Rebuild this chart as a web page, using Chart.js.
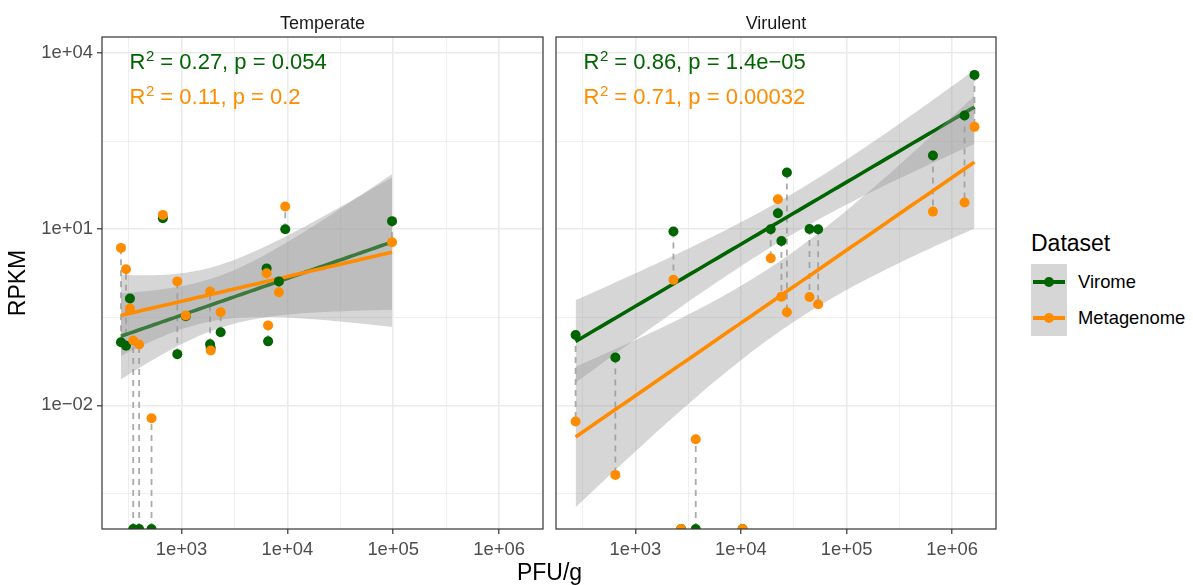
<!DOCTYPE html>
<html lang="en">
<head>
<meta charset="UTF-8">
<title>RPKM vs PFU/g</title>
<script src="https://cdn.jsdelivr.net/npm/chart.js@4.4.1/dist/chart.umd.min.js"></script>
<style>
  body { margin: 0; background: #fff; font-family: 'Liberation Sans', Arial, sans-serif; }
  #wrap { position: relative; width: 1193px; height: 585px; overflow: hidden; }
  canvas { position: absolute; top: 0; }
  .xtitle { position: absolute; left: 0; width: 1099px; top: 561px; text-align: center; font-size: 23px; line-height: 1; color: #000; }
  .ltitle { position: absolute; left: 1031px; top: 232px; font-size: 23px; line-height: 1; color: #000; }
  .key { position: absolute; left: 1031px; width: 36px; height: 36px; background: rgba(153,153,153,0.4); }
  .key .ln { position: absolute; left: 2px; right: 2px; top: 16px; height: 4px; }
  .key .dt { position: absolute; left: 13px; top: 13px; width: 10px; height: 10px; border-radius: 50%; }
  .llabel { position: absolute; left: 1078px; font-size: 18.4px; line-height: 1; color: #000; }
</style>
</head>
<body>
<div id="wrap">
  <canvas id="temperate" width="548" height="585" style="left:0px"></canvas>
  <canvas id="virulent" width="450" height="585" style="left:551px"></canvas>
  <div class="xtitle">PFU/g</div>
  <div class="ltitle">Dataset</div>
  <div class="key" style="top:264px"><div class="ln" style="background:#006400"></div><div class="dt" style="background:#006400"></div></div>
  <div class="key" style="top:300px"><div class="ln" style="background:#FF8C00"></div><div class="dt" style="background:#FF8C00"></div></div>
  <div class="llabel" style="top:273px">Virome</div>
  <div class="llabel" style="top:309px">Metagenome</div>
</div>
<script>
// values (0 = not detected, drawn on the bottom edge)
const tempPfu = [268, 299, 326, 350, 398, 521, 667, 913, 1098, 1862, 1888, 2344, 6370, 6580, 8320, 9550, 97500];
const tempVirome = [0.119, 0.104, 0.66, 0, 0, 0, 15.4, 0.0745, 0.33, 0.110, 0.095, 0.176, 2.15, 0.123, 1.29, 10.0, 13.7];
const tempMetagenome = [4.8, 2.08, 0.445, 0.127, 0.109, 0.00605, 17.5, 1.29, 0.338, 0.867, 0.0857, 0.386, 1.78, 0.230, 0.846, 24.3, 6.0];

const virPfu = [272, 647, 2296, 2716, 3733, 10360, 19140, 22400, 24170, 27240, 44570, 53830, 657500, 1309000, 1626000];
const virVirome = [0.158, 0.0652, 9.1, 0, 0, 0, 10, 18.7, 6.3, 92, 10.1, 10.0, 179, 859, 4237];
const virMetagenome = [0.0053, 0.000655, 1.37, 0, 0.00265, 0, 3.2, 32.4, 0.71, 0.386, 0.70, 0.528, 19.9, 28.4, 552];

const tempStats = [['0.27', '0.054'], ['0.11', '0.2']];
const virStats = [['0.86', '1.4e\u221205'], ['0.71', '0.00032']];

// axes (log10 exponents)
const xTickExp = [3, 4, 5, 6];
const xTickLabels = ['1e+03', '1e+04', '1e+05', '1e+06'];
const xMinorExp = [2.5, 3.5, 4.5, 5.5];
const yTickExp = [-2, 1, 4];
const yTickLabels = ['1e\u221202', '1e+01', '1e+04'];
const yMinorExp = [-3.5, -0.5, 2.5];
const xLim = [2.249, 6.415];
const yLim = [-4.105, 4.272];

const GREEN = '#006400', ORANGE = '#FF8C00';
const RIBBON = 'rgba(153,153,153,0.4)';
const FONT = '"Liberation Sans", Arial, sans-serif';
const CLEAR = 'rgba(0,0,0,0)';
const T975 = {9: 2.262, 10: 2.228, 11: 2.201, 12: 2.179, 13: 2.160, 14: 2.145, 15: 2.131, 16: 2.120, 17: 2.110};

// lm on log10 scale, 95% confidence band (what geom_smooth(method = "lm") shows)
function fitLine(xs, ys) {
  const lx = [], ly = [];
  xs.forEach((x, i) => { if (ys[i] > 0) { lx.push(Math.log10(x)); ly.push(Math.log10(ys[i])); } });
  const n = lx.length;
  const mx = lx.reduce((a, b) => a + b, 0) / n;
  const my = ly.reduce((a, b) => a + b, 0) / n;
  let sxx = 0, sxy = 0;
  lx.forEach((x, i) => { sxx += (x - mx) ** 2; sxy += (x - mx) * (ly[i] - my); });
  const b = sxy / sxx, a = my - b * mx;
  let sse = 0;
  lx.forEach((x, i) => { sse += (ly[i] - a - b * x) ** 2; });
  const s = Math.sqrt(sse / (n - 2));
  const t = T975[n - 2] || 2.1;
  const lo = Math.min(...lx), hi = Math.max(...lx);
  const line = [], upper = [], lower = [];
  for (let k = 0; k < 80; k++) {
    const x = lo + (hi - lo) * k / 79;
    const f = a + b * x;
    const se = s * Math.sqrt(1 / n + (x - mx) ** 2 / sxx);
    line.push({x: 10 ** x, y: 10 ** f});
    upper.push({x: 10 ** x, y: 10 ** (f + t * se)});
    lower.push({x: 10 ** x, y: 10 ** (f - t * se)});
  }
  return {line, upper, lower};
}

const isMajor = (v, majors) => majors.some(e => Math.abs(Math.log10(v) - e) < 1e-6);

function logAxis(lim, majors, minors, labels, showLabels, fitSize, horizontal) {
  const grid = majors.concat(minors).sort((p, q) => p - q);
  return {
    type: 'logarithmic',
    min: 10 ** lim[0],
    max: 10 ** lim[1],
    bounds: 'data',
    afterBuildTicks: s => { s.ticks = grid.map(e => ({value: 10 ** e})); },
    afterFit: s => { if (horizontal) s.height = fitSize; else s.width = fitSize; },
    ticks: {
      display: showLabels,
      autoSkip: false,
      maxRotation: 0,
      minRotation: 0,
      padding: horizontal ? 5 : 4,
      color: '#4D4D4D',
      font: {family: FONT, size: 18.4},
      callback: v => {
        const i = majors.findIndex(e => Math.abs(Math.log10(v) - e) < 1e-6);
        return i >= 0 ? labels[i] : '';
      }
    },
    grid: {
      color: '#EBEBEB',
      lineWidth: c => isMajor(c.tick.value, majors) ? 1.6 : 0.8,
      drawTicks: showLabels,
      tickLength: 5,
      tickWidth: 1.2,
      tickColor: c => isMajor(c.tick.value, majors) ? '#333333' : CLEAR
    },
    border: {display: false}
  };
}

function panelDatasets(pfu, vir, meta) {
  const yOf = v => v > 0 ? v : 10 ** yLim[0];
  const conn = [];
  pfu.forEach((x, i) => { conn.push({x, y: yOf(vir[i])}, {x, y: yOf(meta[i])}, {x, y: null}); });
  const g = fitLine(pfu, vir), o = fitLine(pfu, meta);
  const band = (data, fill, order) => ({data, showLine: true, pointRadius: 0, borderColor: CLEAR, borderWidth: 0,
    fill, backgroundColor: RIBBON, order, clip: 0});
  const fit = (data, color, order) => ({data, showLine: true, pointRadius: 0, borderColor: color, borderWidth: 3.6, order, clip: 0});
  const pts = (vals, color, order) => ({data: pfu.map((x, i) => ({x, y: yOf(vals[i])})), pointRadius: 5,
    pointBackgroundColor: color, pointBorderWidth: 0, order, clip: 0});
  return [
    {data: conn, showLine: true, spanGaps: false, pointRadius: 0, borderColor: '#ABABAB', borderWidth: 1.8, borderDash: [6, 5], order: 10, clip: 0},
    band(g.lower, false, 9),
    band(g.upper, 1, 9),
    fit(g.line, GREEN, 8),
    band(o.lower, false, 7),
    band(o.upper, 4, 7),
    fit(o.line, ORANGE, 6),
    pts(vir, GREEN, 5),
    pts(meta, ORANGE, 4)
  ];
}

// strip label, stat labels and panel border
const panelText = {
  id: 'panelText',
  afterDraw(chart, args, opts) {
    const {ctx, chartArea: a} = chart;
    ctx.save();
    ctx.strokeStyle = '#333333';
    ctx.lineWidth = 1.2;
    ctx.strokeRect(a.left, a.top, a.right - a.left, a.bottom - a.top);
    ctx.fillStyle = '#1A1A1A';
    ctx.font = '18px ' + FONT;
    ctx.textAlign = 'center';
    ctx.textBaseline = 'alphabetic';
    ctx.fillText(opts.strip, (a.left + a.right) / 2, 29);
    ctx.textAlign = 'left';
    opts.stats.forEach((st, i) => {
      const x = a.left + 27.5, y = 68.5 + i * 35;
      ctx.fillStyle = i === 0 ? GREEN : ORANGE;
      ctx.font = '22px ' + FONT;
      ctx.fillText('R', x, y);
      let w = ctx.measureText('R').width + 0.5;
      ctx.font = '15px ' + FONT;
      ctx.fillText('2', x + w, y - 7.5);
      w += ctx.measureText('2').width;
      ctx.font = '22px ' + FONT;
      ctx.fillText(' = ' + st[0] + ', p = ' + st[1], x + w, y);
    });
    ctx.restore();
  }
};

function makePanel(id, strip, stats, pfu, vir, meta, first) {
  return new Chart(document.getElementById(id), {
    type: 'scatter',
    data: {datasets: panelDatasets(pfu, vir, meta)},
    plugins: [panelText],
    options: {
      responsive: false,
      animation: false,
      events: [],
      layout: {padding: {top: 37, right: 4, bottom: 0, left: 0}},
      scales: {
        x: logAxis(xLim, xTickExp, xMinorExp, xTickLabels, true, 56, true),
        y: Object.assign(logAxis(yLim, yTickExp, yMinorExp, yTickLabels, first, first ? 102 : 4, false),
          {title: {display: first, text: 'RPKM', color: '#000', font: {family: FONT, size: 23}, padding: {top: 5, bottom: 0}}})
      },
      plugins: {
        legend: {display: false},
        tooltip: {enabled: false},
        panelText: {strip, stats}
      }
    }
  });
}

makePanel('temperate', 'Temperate', tempStats, tempPfu, tempVirome, tempMetagenome, true);
makePanel('virulent', 'Virulent', virStats, virPfu, virVirome, virMetagenome, false);
</script>
</body>
</html>
